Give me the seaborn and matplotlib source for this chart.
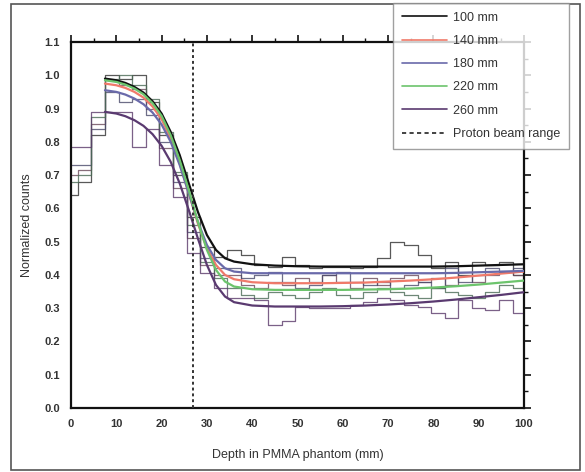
import numpy as np
import pandas as pd
import matplotlib
matplotlib.use("Agg")
import matplotlib.pyplot as plt
from matplotlib.ticker import MultipleLocator
import seaborn as sns

# ---------------- data ----------------
bin_centers = list(range(0, 100, 3))  # 0,3,...,99 (3 mm bins)

hist_100 = [0.64, 0.68, 0.82, 1.00, 0.99, 1.00, 0.92, 0.82, 0.70, 0.575, 0.485, 0.455,
            0.475, 0.46, 0.43, 0.425, 0.455, 0.43, 0.42, 0.425, 0.425, 0.42, 0.425, 0.45,
            0.50, 0.49, 0.46, 0.42, 0.44, 0.40, 0.44, 0.43, 0.44, 0.40]
hist_140 = [0.70, 0.715, 0.855, 0.985, 0.97, 0.96, 0.90, 0.78, 0.66, 0.51, 0.43, 0.40,
            0.40, 0.37, 0.36, 0.38, 0.37, 0.39, 0.38, 0.40, 0.38, 0.36, 0.39, 0.37,
            0.39, 0.40, 0.38, 0.39, 0.37, 0.41, 0.38, 0.40, 0.41, 0.40]
hist_180 = [0.73, 0.73, 0.84, 0.95, 0.92, 0.93, 0.88, 0.80, 0.68, 0.53, 0.45, 0.42,
            0.42, 0.39, 0.40, 0.41, 0.38, 0.36, 0.37, 0.40, 0.41, 0.38, 0.37, 0.38,
            0.36, 0.37, 0.38, 0.36, 0.42, 0.38, 0.40, 0.42, 0.41, 0.42]
hist_220 = [0.68, 0.70, 0.875, 0.99, 1.00, 0.97, 0.93, 0.83, 0.71, 0.55, 0.44, 0.39,
            0.36, 0.34, 0.33, 0.35, 0.34, 0.33, 0.35, 0.36, 0.34, 0.33, 0.35, 0.36,
            0.35, 0.34, 0.33, 0.36, 0.35, 0.34, 0.33, 0.35, 0.37, 0.36]
hist_260 = [0.785, 0.785, 0.89, 0.89, 0.89, 0.785, 0.84, 0.73, 0.635, 0.465, 0.405, 0.36,
            0.33, 0.33, 0.325, 0.25, 0.26, 0.305, 0.30, 0.30, 0.30, 0.31, 0.32, 0.33,
            0.325, 0.31, 0.305, 0.285, 0.27, 0.325, 0.30, 0.295, 0.325, 0.285]

curve_x = [7.5, 10, 12, 14, 16, 18, 20, 22, 24, 26, 28, 30, 32, 34, 36, 40, 45, 50,
           55, 60, 65, 70, 75, 80, 85, 90, 95, 100]
fit_100 = [0.99, 0.985, 0.977, 0.965, 0.948, 0.922, 0.885, 0.83, 0.76, 0.675, 0.59, 0.52,
           0.475, 0.45, 0.44, 0.432, 0.428, 0.426, 0.425, 0.425, 0.425, 0.425, 0.425, 0.425,
           0.426, 0.428, 0.43, 0.432]
fit_140 = [0.975, 0.97, 0.962, 0.95, 0.933, 0.906, 0.868, 0.81, 0.735, 0.645, 0.555, 0.48,
           0.43, 0.40, 0.387, 0.378, 0.375, 0.375, 0.375, 0.376, 0.377, 0.38, 0.383, 0.387,
           0.392, 0.398, 0.404, 0.41]
fit_180 = [0.955, 0.95, 0.942, 0.93, 0.913, 0.888, 0.852, 0.80, 0.73, 0.645, 0.56, 0.49,
           0.445, 0.42, 0.41, 0.405, 0.405, 0.405, 0.405, 0.405, 0.405, 0.405, 0.405, 0.405,
           0.406, 0.408, 0.41, 0.412]
fit_220 = [0.985, 0.98, 0.972, 0.96, 0.943, 0.916, 0.878, 0.82, 0.745, 0.655, 0.56, 0.475,
           0.415, 0.38, 0.365, 0.357, 0.355, 0.355, 0.355, 0.355, 0.356, 0.357, 0.359, 0.362,
           0.366, 0.371, 0.377, 0.383]
fit_260 = [0.89, 0.885, 0.877, 0.865, 0.848, 0.823, 0.788, 0.74, 0.675, 0.595, 0.51, 0.43,
           0.37, 0.335, 0.318, 0.308, 0.305, 0.305, 0.305, 0.306, 0.308, 0.311, 0.315, 0.32,
           0.326, 0.333, 0.34, 0.348]

labels = ["100 mm", "140 mm", "180 mm", "220 mm", "260 mm"]
proton_range = 27.0
x_max = 100

# ---------------- style ----------------
sns.set_theme(style="white")
plt.rcParams["font.family"] = ["Liberation Sans", "DejaVu Sans"]

curve_colors = ["#111111", "#f07a6a", "#6a6aaa", "#6cc46c", "#5a3a70"]
hist_colors = ["#303030", "#6a4a5a", "#4a4a6a", "#4a6a55", "#5a3a6a"]

fig = plt.figure(figsize=(5.85, 4.72), dpi=100)
ax = fig.add_axes([71 / 585, 1 - 408 / 472, (524 - 71) / 585, (408 - 42) / 472])

hists = [hist_100, hist_140, hist_180, hist_220, hist_260]
fits = [fit_100, fit_140, fit_180, fit_220, fit_260]

for h, c in zip(hists, hist_colors):
    xs = bin_centers + [x_max]
    ys = h + [h[-1]]
    df = pd.DataFrame({"x": xs, "y": ys})
    sns.lineplot(data=df, x="x", y="y", ax=ax, color=c, lw=0.9, alpha=0.8,
                 drawstyle="steps-mid", legend=False, zorder=2)

handles = []
for f, c, lab in zip(fits, curve_colors, labels):
    df = pd.DataFrame({"x": curve_x, "y": f})
    sns.lineplot(data=df, x="x", y="y", ax=ax, color=c, lw=1.6, legend=False, zorder=3)
    handles.append(plt.Line2D([], [], color=c, lw=1.2, label=lab))

ax.axvline(proton_range, color="#333333", lw=1.4, ls=(0, (1.5, 1.5)), zorder=4)
handles.append(plt.Line2D([], [], color="#222222", lw=1.2, ls=(0, (2.5, 2)),
                          label="Proton beam range"))

ax.set_xlim(0, 100)
ax.set_ylim(0, 1.1)
ax.xaxis.set_major_locator(MultipleLocator(10))
ax.xaxis.set_minor_locator(MultipleLocator(5))
ax.yaxis.set_major_locator(MultipleLocator(0.1))
ax.yaxis.set_minor_locator(MultipleLocator(0.05))
ax.set_yticks(np.arange(0, 1.11, 0.1))
ax.set_yticklabels([f"{v:.1f}" for v in np.arange(0, 1.11, 0.1)])

for s in ax.spines.values():
    s.set_visible(True)
    s.set_color("#111111")
    s.set_linewidth(1.6)

ax.tick_params(which="both", direction="out", top=True, right=True,
               labeltop=False, labelright=False, color="#111111")
ax.tick_params(which="major", length=5, width=1.2, labelsize=8, pad=3,
               labelcolor="#333333")
ax.tick_params(which="minor", length=3, width=1.0)
for lbl in ax.get_xticklabels() + ax.get_yticklabels():
    lbl.set_fontweight("bold")

ax.set_xlabel("Depth in PMMA phantom (mm)", fontsize=9, color="#333333", labelpad=14)
ax.set_ylabel("Normalized counts", fontsize=9, color="#333333", labelpad=8)

leg = fig.legend(handles=handles, loc="upper left",
                 bbox_to_anchor=(393 / 585, 1 - 3 / 472), fontsize=9,
                 frameon=True, fancybox=False, handlelength=3.6, labelspacing=0.9,
                 borderpad=0.7, handletextpad=0.5, borderaxespad=0)
leg.get_frame().set_edgecolor("#888888")
leg.get_frame().set_linewidth(1.0)
for t in leg.get_texts():
    t.set_color("#333333")

# outer frame of the figure
fig.patches.append(plt.Rectangle((11 / 585, 2 / 472), (580 - 11) / 585, (470 - 4) / 472,
                                 transform=fig.transFigure, fill=False,
                                 edgecolor="#555555", lw=1.2))

fig.savefig("out.png", dpi=100)
